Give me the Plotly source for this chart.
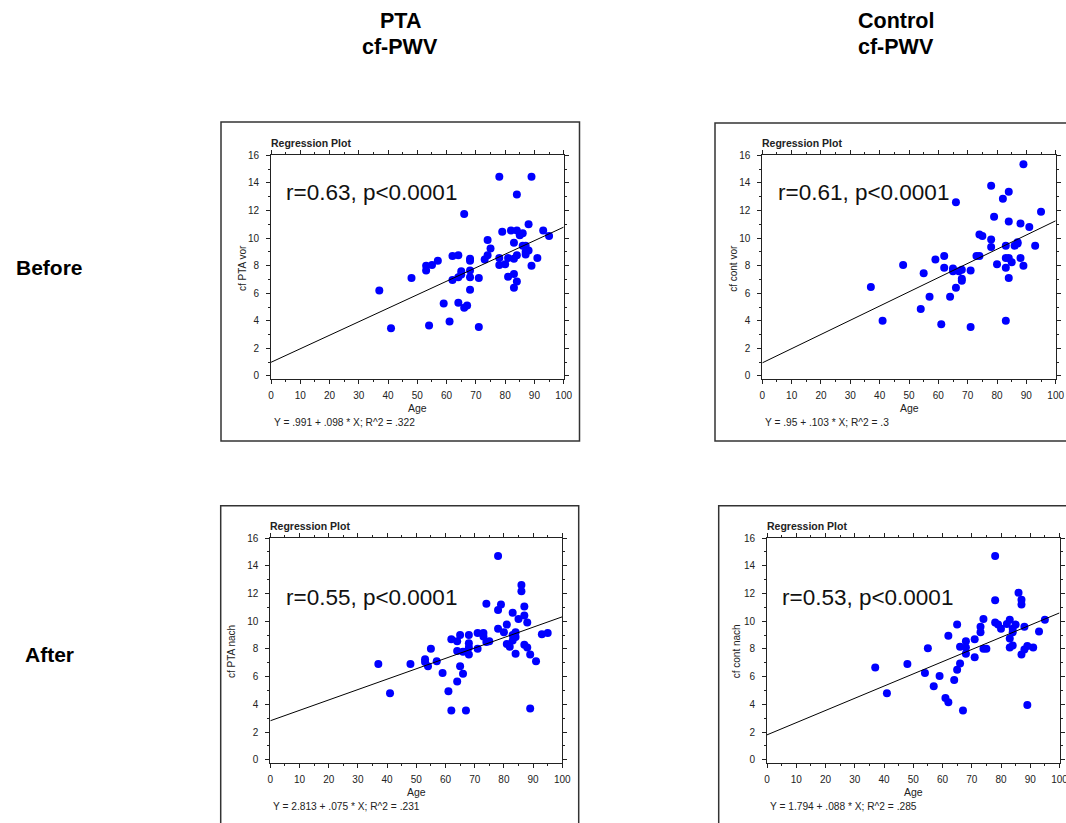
import plotly.graph_objects as go

# ---------------- data ----------------
pta_before_age = [37, 41, 48, 53, 53, 54, 55, 57, 59, 61, 62, 62, 64, 64, 64, 65, 65, 66, 66, 67,
                  68, 68, 68, 68, 68, 71, 71, 73, 74, 74, 75, 78, 78, 78, 79, 80, 81, 81, 82, 83,
                  83, 83, 83, 84, 84, 84, 84, 85, 86, 86, 87, 87, 87, 88, 88, 89, 89, 91, 93, 95]
pta_before_cf = [6.2, 3.45, 7.1, 8.0, 7.65, 3.65, 8.05, 8.35, 5.25, 3.95, 8.7, 6.95, 8.75, 5.3, 7.15,
                 7.6, 7.35, 11.75, 4.95, 5.1, 8.5, 8.35, 7.65, 7.15, 6.25, 7.1, 3.55, 8.45, 8.75, 9.85,
                 9.25, 14.45, 8.55, 8.05, 10.45, 8.1, 8.55, 7.2, 10.55, 9.65, 8.5, 7.4, 6.4, 10.55, 13.15,
                 8.75, 6.85, 10.2, 10.35, 9.45, 9.45, 9.0, 8.8, 11.0, 9.1, 14.45, 8.0, 8.55, 10.55, 10.15]

cont_before_age = [37, 41, 48, 54, 55, 57, 59, 61, 62, 62, 64, 65, 65, 66, 66, 67, 68, 68, 68, 71,
                   71, 73, 74, 74, 75, 78, 78, 78, 79, 80, 82, 83, 83, 83, 83, 84, 84, 84, 84, 85,
                   86, 87, 87, 88, 88, 89, 89, 91, 93, 95]
cont_before_cf = [6.45, 4.0, 8.05, 4.85, 7.45, 5.75, 8.45, 3.75, 8.7, 7.85, 5.75, 7.8, 7.6, 12.6, 6.4,
                  7.6, 7.7, 7.05, 6.9, 7.65, 3.55, 8.7, 10.25, 8.7, 10.15, 13.8, 9.9, 9.35, 11.55, 8.1,
                  12.85, 9.45, 8.55, 7.85, 4.0, 13.35, 11.2, 8.55, 7.1, 8.25, 9.45, 9.6, 9.7, 11.05, 8.55,
                  15.35, 8.0, 10.8, 9.45, 11.9]

pta_after_age = [37, 41, 48, 53, 53, 54, 55, 57, 59, 61, 62, 62, 64, 64, 64, 65, 65, 66, 66, 67,
                 68, 68, 68, 68, 71, 71, 73, 73, 74, 74, 75, 78, 78, 78, 79, 80, 81, 81, 82, 83,
                 83, 83, 84, 84, 84, 85, 86, 86, 87, 87, 87, 88, 88, 89, 89, 91, 93, 95]
pta_after_cf = [6.9, 4.8, 6.9, 7.25, 7.05, 6.75, 8.0, 7.1, 6.25, 4.95, 8.7, 3.55, 8.55, 7.85, 5.65,
                9.0, 6.75, 6.2, 7.8, 3.55, 9.0, 8.4, 8.1, 7.6, 9.15, 8.0, 9.15, 8.9, 11.25, 8.5,
                8.55, 14.7, 10.8, 9.45, 11.2, 9.2, 9.75, 8.35, 8.15, 10.6, 9.0, 8.6, 9.2, 8.85, 7.65,
                10.15, 12.6, 12.15, 11.05, 10.4, 8.3, 9.9, 8.1, 3.7, 7.6, 7.1, 9.05, 9.15]

cont_after_age = [37, 41, 48, 54, 55, 57, 59, 61, 62, 62, 64, 65, 65, 66, 66, 67, 68, 68, 68, 71,
                  71, 73, 73, 74, 74, 75, 78, 78, 78, 79, 80, 82, 83, 83, 83, 84, 84, 84, 85, 86,
                  87, 87, 87, 88, 88, 89, 89, 91, 93, 95]
cont_after_cf = [6.65, 4.8, 6.9, 6.25, 8.05, 5.3, 6.05, 4.45, 8.95, 4.15, 5.75, 9.75, 6.5, 8.15, 6.95,
                 3.55, 8.55, 8.1, 7.65, 8.7, 7.4, 9.6, 9.2, 10.15, 8.0, 8.0, 14.7, 11.5, 9.9, 9.75,
                 9.45, 9.8, 10.1, 8.75, 8.1, 9.45, 9.2, 8.25, 9.75, 12.05, 11.55, 11.2, 7.6, 9.6, 7.95,
                 8.2, 3.95, 8.1, 9.25, 10.1]

intercepts = [0.991, 0.95, 2.813, 1.794]
slopes = [0.098, 0.103, 0.075, 0.088]
y_titles = ["cf PTA vor", "cf cont vor", "cf PTA nach", "cf cont nach"]
r_texts = ["r=0.63, p<0.0001", "r=0.61, p<0.0001", "r=0.55, p<0.0001", "r=0.53, p<0.0001"]
eq_texts = ["Y = .991 + .098 * X; R^2 = .322", "Y = .95 + .103 * X; R^2 = .3",
            "Y = 2.813 + .075 * X; R^2 = .231", "Y = 1.794 + .088 * X; R^2 = .285"]
col_headers = [("PTA", "cf-PWV"), ("Control", "cf-PWV")]
row_headers = ["Before", "After"]
x_ticks = list(range(0, 101, 10))
y_ticks = list(range(0, 17, 2))

ages = [pta_before_age, cont_before_age, pta_after_age, cont_after_age]
vals = [pta_before_cf, cont_before_cf, pta_after_cf, cont_after_cf]

# ---------------- layout geometry (pixels) ----------------
W, H = 1066, 823
FONT = "Liberation Sans, Arial, sans-serif"
TXT = "#222222"

def px(x):
    return x / W

def py(y):
    return 1 - y / H

# plot areas: (x_left, x_right, y_top, y_bottom)
plots = [(271, 563.7, 155.3, 379.4),
         (762.3, 1055.7, 155.3, 379.4),
         (270.3, 562.3, 538, 763.2),
         (767, 1059.5, 538, 763.2)]
# outer panel frames
frames = [(221, 122, 579.5, 441), (715, 123, 1080, 441),
          (220.7, 505.7, 578.7, 860), (718.7, 505.7, 1080, 860)]

fig = go.Figure()
annotations = []
shapes = []

for i in range(4):
    xa = "x" if i == 0 else f"x{i+1}"
    ya = "y" if i == 0 else f"y{i+1}"
    fig.add_trace(go.Scatter(x=ages[i], y=vals[i], mode="markers",
                             marker=dict(color="#0000ff", size=8, line=dict(width=0)),
                             xaxis=xa, yaxis=ya, showlegend=False, hoverinfo="x+y"))
    lx = [0, 100]
    ly = [intercepts[i] + slopes[i] * v for v in lx]
    fig.add_trace(go.Scatter(x=lx, y=ly, mode="lines", line=dict(color="black", width=1),
                             xaxis=xa, yaxis=ya, showlegend=False, hoverinfo="skip"))

    xl, xr, yt, yb = plots[i]
    axis_common = dict(showline=True, linecolor="#222222", linewidth=1, mirror="allticks",
                       ticks="outside", ticklen=4, tickcolor="#222222", showgrid=False,
                       zeroline=False, automargin=False, ticklabeloverflow="allow",
                       tickfont=dict(family=FONT, size=10, color=TXT))
    xkey = "xaxis" if i == 0 else f"xaxis{i+1}"
    ykey = "yaxis" if i == 0 else f"yaxis{i+1}"
    fig.update_layout({
        xkey: dict(domain=[px(xl), px(xr)], range=[0, 100], tickvals=x_ticks, anchor=ya,
                   ticklabelstandoff=3,
                   minor=dict(dtick=5, ticks="outside", ticklen=2, tickcolor="#222222"),
                   **axis_common),
        ykey: dict(domain=[py(yb), py(yt)], range=[-0.25, 16], tickvals=y_ticks, anchor=xa,
                   ticklabelstandoff=5,
                   minor=dict(dtick=1, ticks="outside", ticklen=2, tickcolor="#222222"),
                   **axis_common),
    })

    # panel frame
    fx0, fy0, fx1, fy1 = frames[i]
    shapes.append(dict(type="rect", xref="paper", yref="paper", x0=px(fx0), x1=px(fx1),
                       y0=py(fy1), y1=py(fy0), line=dict(color="#333333", width=1.5)))

    # "Regression Plot"
    annotations.append(dict(text="<b>Regression Plot</b>", xref="paper", yref="paper",
                            x=px(xl - 2), y=py(yt - 12.5), xanchor="left", yanchor="middle",
                            showarrow=False, font=dict(family=FONT, size=10.5, color=TXT)))
    # r text
    annotations.append(dict(text=r_texts[i], xref=xa, yref=ya,
                            x=4.6, y=13.3 if i < 2 else 11.7, xanchor="left", yanchor="middle",
                            showarrow=False, font=dict(family=FONT, size=22.5, color="#111111")))
    # x title
    annotations.append(dict(text="Age", xref="paper", yref="paper",
                            x=px((xl + xr) / 2), y=py(yb + 29), xanchor="center", yanchor="middle",
                            showarrow=False, font=dict(family=FONT, size=10.5, color=TXT)))
    # equation
    annotations.append(dict(text=eq_texts[i], xref="paper", yref="paper",
                            x=px(xl + 0.5), y=py(yb + 43.5), xanchor="left", yanchor="middle",
                            showarrow=False, font=dict(family=FONT, size=10.2, color=TXT)))
    # y title
    ytx = [242.7, 733.5, 231.5, 736.7][i]
    annotations.append(dict(text=y_titles[i], xref="paper", yref="paper", textangle=-90,
                            x=px(ytx), y=py((yt + yb) / 2 + 1), xanchor="center", yanchor="middle",
                            showarrow=False, font=dict(family=FONT, size=10, color=TXT)))

# column headers
for (l1, l2), cx in zip(col_headers, [400, 896]):
    annotations.append(dict(text=f"<b>{l1}</b>", xref="paper", yref="paper", x=px(cx), y=py(20.5),
                            xanchor="center", yanchor="middle", showarrow=False,
                            font=dict(family=FONT, size=21.5, color="black")))
    annotations.append(dict(text=f"<b>{l2}</b>", xref="paper", yref="paper", x=px(cx), y=py(47),
                            xanchor="center", yanchor="middle", showarrow=False,
                            font=dict(family=FONT, size=21.5, color="black")))
# row headers
for txt, cy in zip(row_headers, [268, 654]):
    annotations.append(dict(text=f"<b>{txt}</b>", xref="paper", yref="paper", x=px(49), y=py(cy),
                            xanchor="center", yanchor="middle", showarrow=False,
                            font=dict(family=FONT, size=21, color="black")))

fig.update_layout(width=W, height=H, margin=dict(l=0, r=0, t=0, b=0, pad=0, autoexpand=False),
                  paper_bgcolor="white", plot_bgcolor="white",
                  annotations=annotations, shapes=shapes, showlegend=False)

post = ("document.documentElement.style.margin='0';document.documentElement.style.padding='0';"
        "document.documentElement.style.overflow='hidden';"
        "document.body.style.margin='0';document.body.style.padding='0';document.body.style.overflow='hidden';"
        "var d=document.getElementById('{plot_id}');d.style.position='fixed';d.style.top='0px';d.style.left='0px';")

fig.write_html("out.html", config={"displayModeBar": False}, post_script=post)
